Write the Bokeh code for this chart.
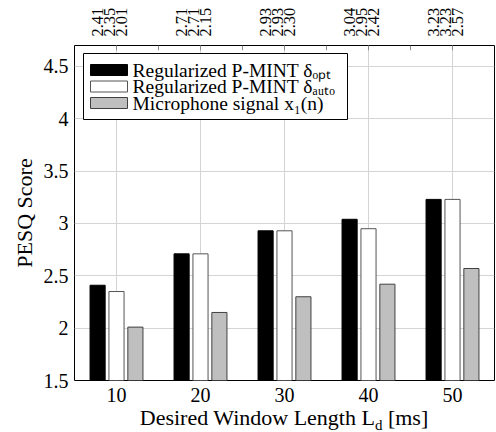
import math
from bokeh.plotting import figure
from bokeh.layouts import column
from bokeh.core.properties import value
from bokeh.models import (FixedTicker, LinearAxis, Div, Range1d, PrintfTickFormatter)
from bokeh.embed import file_html
from bokeh.resources import INLINE

# ---- data ----
window_lengths = [10, 20, 30, 40, 50]
pesq_opt = [2.41, 2.71, 2.93, 3.04, 3.23]
pesq_auto = [2.35, 2.71, 2.93, 2.95, 3.23]
pesq_mic = [2.01, 2.15, 2.30, 2.42, 2.57]
series_names = ["Regularized P-MINT δₒₚₜ",
                "Regularized P-MINT δₐᵤₜₒ",
                "Microphone signal x₁(n)"]
y_ticks = [1.5, 2, 2.5, 3, 3.5, 4, 4.5]
x_label_main = "Desired Window Length L"
x_label_sub = "d"
x_label_tail = " [ms]"
y_label = "PESQ Score"

FONT = "Liberation Serif, serif"
X0, X1 = 5, 55
Y0, Y1 = 1.5, 4.7
FRAME_L, FRAME_T, FRAME_W, FRAME_H = 74, 45, 420, 335

p = figure(width=496, height=410, output_backend="svg", toolbar_location=None,
           x_range=Range1d(X0, X1), y_range=Range1d(Y0, Y1),
           min_border_left=FRAME_L, min_border_right=2, min_border_top=FRAME_T,
           min_border_bottom=30, background_fill_color="white",
           border_fill_color="white")

p.outline_line_color = "black"
p.outline_line_width = 1

# grid
p.xgrid.ticker = FixedTicker(ticks=window_lengths)
p.ygrid.ticker = FixedTicker(ticks=y_ticks)
p.grid.grid_line_color = "#d4d4d4"
p.grid.grid_line_width = 1

# axes
xa = p.xaxis[0]
xa.ticker = FixedTicker(ticks=window_lengths)
xa.major_label_text_font = FONT
xa.major_label_text_font_size = "20px"
xa.major_label_text_color = "black"
xa.major_label_standoff = 7
xa.major_tick_in = 0
xa.major_tick_out = 0
xa.minor_tick_line_color = None
xa.axis_line_color = None

ya = p.yaxis[0]
ya.ticker = FixedTicker(ticks=y_ticks)
ya.formatter = PrintfTickFormatter(format="%g")
ya.major_label_text_font = FONT
ya.major_label_text_font_size = "20px"
ya.major_label_text_color = "black"
ya.major_label_standoff = 6
ya.major_tick_in = 0
ya.major_tick_out = 0
ya.minor_tick_line_color = None
ya.axis_line_color = None
ya.axis_label = y_label
ya.axis_label_text_font = FONT
ya.axis_label_text_font_size = "22px"
ya.axis_label_text_font_style = "normal"
ya.axis_label_text_color = "black"
ya.axis_label_standoff = 4

# bars
offsets = [-2.25, 0.0, 2.25]
styles = [("black", "black"), ("white", "#555555"), ("#bfbfbf", "#404040")]
series = [pesq_opt, pesq_auto, pesq_mic]
for vals, off, (fc, lc) in zip(series, offsets, styles):
    p.vbar(x=[w + off for w in window_lengths], top=vals, bottom=Y0,
           width=1.8, fill_color=fc, line_color=lc, line_width=1)

# short ticks along the top edge
top_tick_x = list(range(10, 55, 5))
p.segment(x0=top_tick_x, y0=[Y1] * len(top_tick_x), x1=top_tick_x,
          y1=[Y1 - 0.045] * len(top_tick_x), line_color="#8a8a8a", line_width=1)

# top value labels (rotated)
label_pos, label_txt = [], []
for i, w in enumerate(window_lengths):
    for k, vals in enumerate(series):
        pos = round(w - 0.85 + (k - 1) * 1.45, 4)
        label_pos.append(pos)
        label_txt.append(f"{vals[i]:.2f}")
top_axis = LinearAxis(ticker=FixedTicker(ticks=label_pos),
                      major_label_overrides=dict(zip(label_pos, label_txt)),
                      major_label_orientation="vertical",
                      major_tick_in=0, major_tick_out=0,
                      minor_tick_line_color=None, axis_line_color=None,
                      major_label_standoff=9,
                      major_label_text_font=FONT,
                      major_label_text_font_size="16.5px",
                      major_label_text_color="black")
p.add_layout(top_axis, "above")

# legend (compact, drawn inside the frame)
def dx(px):
    return X0 + (px - FRAME_L) * (X1 - X0) / FRAME_W

def dy(py):
    return Y1 - (py - FRAME_T) * (Y1 - Y0) / FRAME_H

p.quad(left=[dx(83)], right=[dx(347)], top=[dy(53)], bottom=[dy(119)],
       fill_color="white", line_color="black", line_width=1)
row_centers = [69.5, 86, 102.5]
p.quad(left=[dx(90)] * 3, right=[dx(127)] * 3,
       top=[dy(c - 5.5) for c in row_centers],
       bottom=[dy(c + 5.5) for c in row_centers],
       fill_color=[s[0] for s in styles], line_color=[s[1] for s in styles],
       line_width=1)
p.text(x=[dx(132)] * 3, y=[dy(c) for c in row_centers], text=series_names,
       text_font=value(FONT), text_font_size="19.5px", text_color="black",
       text_align="left", text_baseline="middle")

# x-axis label with subscript, as real text below the figure
xlabel = Div(
    text=('<div style="width:420px;margin-left:74px;text-align:center;'
          'font-family:\'Liberation Serif\',serif;font-size:22px;line-height:22px;'
          'margin-top:-3px;color:black;white-space:nowrap;">'
          f'{x_label_main}<span style="font-size:15px;position:relative;top:5px;">'
          f'{x_label_sub}</span>{x_label_tail}</div>'),
    width=496, height=22, margin=0)

layout = column(p, xlabel, spacing=0)
open("out.html", "w").write(file_html(layout, INLINE))
